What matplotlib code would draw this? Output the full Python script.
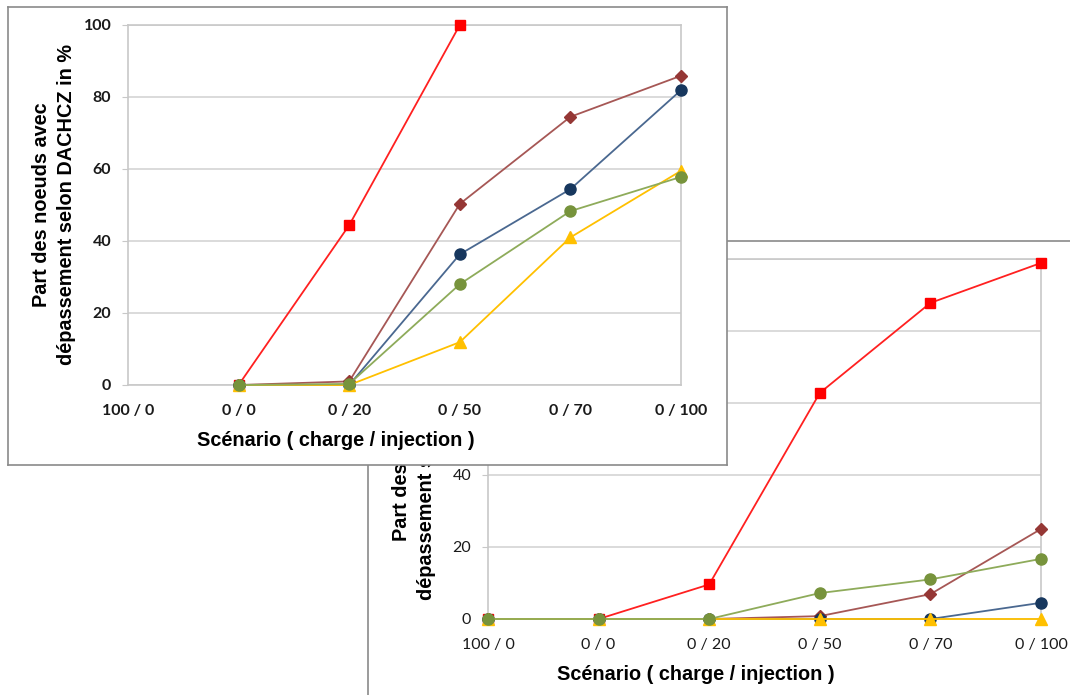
import matplotlib.pyplot as plt
import numpy as np

nan = np.nan

# Scénarios (axe des abscisses)
scenarios = ['100 / 0', '0 / 0', '0 / 20', '0 / 50', '0 / 70', '0 / 100']

# Graphique du premier plan
avant_rouge = [nan, 0, 44.4, 100, nan, nan]
avant_brun = [nan, 0, 1.0, 50.3, 74.5, 85.9]
avant_bleu = [nan, 0, 0, 36.3, 54.4, 81.9]
avant_jaune = [nan, 0, 0, 11.9, 41.0, 59.5]
avant_vert = [nan, 0, 0.3, 28.0, 48.3, 57.8]

# Graphique de l'arrière-plan
arriere_rouge = [0, 0, 9.6, 62.8, 87.8, 98.9]
arriere_brun = [0, 0, 0, 0.8, 6.9, 25.0]
arriere_bleu = [0, 0, 0, 0, 0, 4.5]
arriere_jaune = [0, 0, 0, 0, 0, 0]
arriere_vert = [0, 0, 0, 7.2, 11.0, 16.7]

ylabel = 'Part des noeuds avec\ndépassement selon DACHCZ in %'
xlabel = 'Scénario ( charge / injection )'

# (couleur ligne, couleur marqueur, marqueur, taille)
styles = [('#ff2020', '#ff0000', 's', 7.5),
          ('#a65755', '#953735', 'D', 6.5),
          ('#4a6890', '#17375e', 'o', 8),
          ('#ffc000', '#ffc000', '^', 8),
          ('#8eab5a', '#77933c', 'o', 8)]

W, H = 1070, 695
fig = plt.figure(figsize=(W / 100, H / 100), dpi=100)


def boite(x0, y0, x1, y1):
    # pixels (origine en haut à gauche) -> fraction de figure
    return [x0 / W, 1 - y1 / H, (x1 - x0) / W, (y1 - y0) / H]


def graphique(dx, dy, series, z, poids):
    cadre = fig.add_axes(boite(8 + dx, 7 + dy, 727 + dx, 465 + dy))
    cadre.set_xticks([])
    cadre.set_yticks([])
    for s in cadre.spines.values():
        s.set_color('#8a8a8a')
        s.set_linewidth(1.2)
    cadre.set_zorder(z)

    ax = fig.add_axes(boite(128 + dx, 25 + dy, 681 + dx, 385 + dy))
    ax.set_zorder(z + 1)
    ax.patch.set_alpha(0)
    x = np.arange(len(scenarios))
    for y, (cl, cm, m, ms) in zip(series, styles):
        ax.plot(x, y, color=cl, lw=1.3, marker=m, ms=ms, mfc=cm, mec=cm,
                clip_on=False, zorder=3)
    ax.set_xlim(0, len(scenarios) - 1)
    ax.set_ylim(0, 100)
    ax.set_yticks(range(0, 101, 20))
    ax.set_xticks(x)
    ax.set_xticklabels(scenarios)
    ax.grid(axis='y', color='#d4d4d4', lw=1.2)
    ax.set_axisbelow(True)
    for s in ax.spines.values():
        s.set_color('#c8c8c8')
        s.set_linewidth(1.2)
    ax.tick_params(axis='y', length=4, color='#c8c8c8', pad=8)
    ax.tick_params(axis='x', length=0, pad=14)
    for t in ax.get_xticklabels() + ax.get_yticklabels():
        t.set_fontfamily('Lato')
        t.set_fontsize(11.5)
        t.set_fontweight(poids)
        t.set_color('#1a1a1a')
    ax.text((54 + dx) / W, 1 - (205 + dy) / H, ylabel, transform=fig.transFigure,
            rotation=90, ha='center', va='center', fontsize=14.3,
            fontweight='bold', family='Liberation Sans', linespacing=1.4)
    ax.text((336 + dx) / W, 1 - (441 + dy) / H, xlabel, transform=fig.transFigure,
            ha='center', va='center', fontsize=14.3, fontweight='bold',
            family='Liberation Sans')
    return ax


graphique(360, 234, [arriere_rouge, arriere_brun, arriere_bleu,
                     arriere_jaune, arriere_vert], 0, 'normal')
graphique(0, 0, [avant_rouge, avant_brun, avant_bleu,
                 avant_jaune, avant_vert], 10, 'bold')

fig.savefig('out.png', dpi=100)
